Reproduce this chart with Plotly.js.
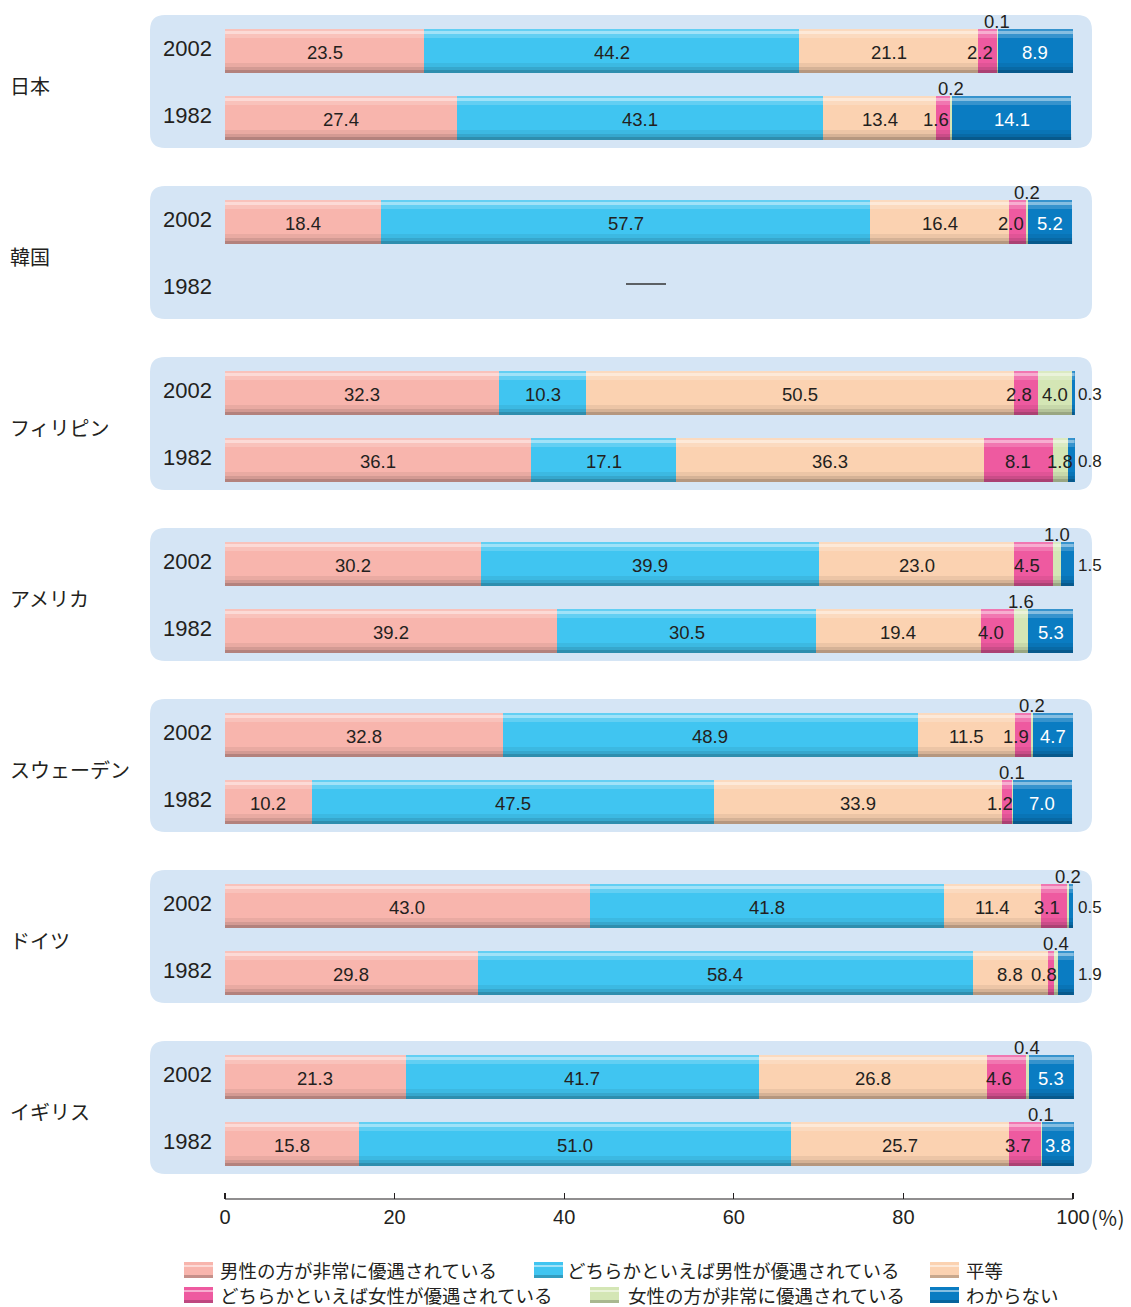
<!DOCTYPE html>
<html><head><meta charset="utf-8">
<script src="https://cdn.plot.ly/plotly-3.0.1.min.js"></script>
<style>html,body{margin:0;padding:0;background:#fff}</style>
</head><body><div id="chart" style="width:1131px;height:1307px"></div>
<script>
// ---------------- DATA ----------------
const countries = ['日本','韓国','フィリピン','アメリカ','スウェーデン','ドイツ','イギリス'];
const years = ['2002','1982'];
const seriesNames = [
  '男性の方が非常に優遇されている',
  'どちらかといえば男性が優遇されている',
  '平等',
  'どちらかといえば女性が優遇されている',
  '女性の方が非常に優遇されている',
  'わからない'
];
// row order: 日本2002, 日本1982, 韓国2002, 韓国1982, フィリピン2002, ...
const strongMale   = [23.5, 27.4, 18.4, null, 32.3, 36.1, 30.2, 39.2, 32.8, 10.2, 43.0, 29.8, 21.3, 15.8];
const ratherMale   = [44.2, 43.1, 57.7, null, 10.3, 17.1, 39.9, 30.5, 48.9, 47.5, 41.8, 58.4, 41.7, 51.0];
const equalVals    = [21.1, 13.4, 16.4, null, 50.5, 36.3, 23.0, 19.4, 11.5, 33.9, 11.4,  8.8, 26.8, 25.7];
const ratherFemale = [ 2.2,  1.6,  2.0, null,  2.8,  8.1,  4.5,  4.0,  1.9,  1.2,  3.1,  0.8,  4.6,  3.7];
const strongFemale = [ 0.1,  0.2,  0.2, null,  4.0,  1.8,  1.0,  1.6,  0.2,  0.1,  0.2,  0.4,  0.4,  0.1];
const dontKnow     = [ 8.9, 14.1,  5.2, null,  0.3,  0.8,  1.5,  5.3,  4.7,  7.0,  0.5,  1.9,  5.3,  3.8];
const xTicks = [0, 20, 40, 60, 80, 100];

// ---------------- STYLE / LAYOUT ----------------
const series = [strongMale, ratherMale, equalVals, ratherFemale, strongFemale, dontKnow];
const colors = ['#f8b5ad', '#40c5f1', '#fbd2b1', '#ee5aa0', '#d4e6b5', '#0a7cc2'];
const TXT = '#231f20';
const NUM_FONT = 'Liberation Sans, Arial, sans-serif';
const JP_FONT = 'Noto Sans CJK JP, sans-serif';
const GROUP = 171, ROW = 67, BARW = 44;
const W = 1131, H = 1307;
const L = 140, R = 31, T = 10, B = 108;
const PX0 = 225, PXU = 8.48;           // pixel of x=0, pixels per unit
const xr = [(L - PX0) / PXU, (W - R - PX0) / PXU];
const yTopPx = 51;                       // pixel centre of first row
const yr = [(H - B) - yTopPx, T - yTopPx];
const plotW = W - L - R, plotH = H - T - B;
const pX = p => (p - L) / plotW;
const pY = p => (H - B - p) / plotH;
const toX = p => (p - PX0) / PXU;

const nRows = countries.length * years.length;
const rowY = [];
for (let i = 0; i < nRows; i++) rowY.push(Math.floor(i / 2) * GROUP + (i % 2) * ROW);

const traces = series.map((vals, s) => ({
  type: 'bar', orientation: 'h', name: seriesNames[s],
  y: rowY, x: vals, width: BARW,
  marker: {color: colors[s], line: {width: 0}},
  showlegend: false, hoverinfo: 'x+name'
}));

const shapes = [];
const annotations = [];

// panels
const panelL = toX(150), panelR = toX(1092), rxU = 15 / PXU, ryU = 15;
countries.forEach((c, g) => {
  const y0 = g * GROUP - 36, y1 = g * GROUP + ROW + 30;
  const x0 = panelL, x1 = panelR;
  const path = `M ${x0 + rxU},${y0} L ${x1 - rxU},${y0} Q ${x1},${y0} ${x1},${y0 + ryU} L ${x1},${y1 - ryU} Q ${x1},${y1} ${x1 - rxU},${y1} L ${x0 + rxU},${y1} Q ${x0},${y1} ${x0},${y1 - ryU} L ${x0},${y0 + ryU} Q ${x0},${y0} ${x0 + rxU},${y0} Z`;
  shapes.push({type: 'path', path, xref: 'x', yref: 'y', layer: 'below', fillcolor: '#d5e5f5', line: {width: 0}});
  annotations.push({xref: 'paper', yref: 'y', x: pX(8), y: g * GROUP + ROW / 2 + 1, xanchor: 'left', yanchor: 'middle',
    text: c, showarrow: false, font: {family: JP_FONT, size: 20, color: TXT}});
});

// bar shading bands (top highlight, bottom shadow)
const bands = [
  [0, 2, 'rgba(255,255,255,0.18)'], [2, 5, 'rgba(255,255,255,0.5)'], [5, 9, 'rgba(255,255,255,0.18)'],
  [BARW - 10, BARW - 6, 'rgba(0,0,0,0.06)'], [BARW - 6, BARW - 3, 'rgba(0,0,0,0.15)'], [BARW - 3, BARW, 'rgba(0,0,0,0.28)']
];

for (let i = 0; i < nRows; i++) {
  const y = rowY[i];
  annotations.push({xref: 'x', yref: 'y', x: toX(214), y: y - 3, xanchor: 'right', yanchor: 'middle',
    text: years[i % 2], showarrow: false, font: {family: NUM_FONT, size: 22, color: TXT}});
  if (series[0][i] == null) {
    shapes.push({type: 'line', xref: 'x', yref: 'y', x0: toX(626), x1: toX(666), y0: y - 5, y1: y - 5,
      line: {color: '#333', width: 1.5}});
    continue;
  }
  let cum = 0;
  series.forEach((vals, s) => {
    const v = vals[i];
    const start = cum, end = cum + v, mid = (start + end) / 2;
    cum = end;
    const lab = v.toFixed(1);
    const base = {xref: 'x', yref: 'y', text: lab, showarrow: false, yanchor: 'middle',
      font: {family: NUM_FONT, size: 18.5, color: TXT}};
    if (s <= 2) {
      annotations.push(Object.assign(base, {x: mid, y: y + 1, xanchor: 'center'}));
    } else if (s === 3) {
      if (v >= 6) annotations.push(Object.assign(base, {x: mid, y: y + 1, xanchor: 'center'}));
      else annotations.push(Object.assign(base, {x: mid, xshift: -7, y: y + 1, xanchor: 'center'}));
    } else if (s === 4) {
      if (v >= 1.7) annotations.push(Object.assign(base, {x: mid, y: y + 1, xanchor: 'center'}));
      else annotations.push(Object.assign(base, {x: mid, y: y - 30, xanchor: 'center'}));
    } else {
      if (v >= 2) annotations.push(Object.assign(base, {x: mid, y: y + 1, xanchor: 'center', font: {family: NUM_FONT, size: 18.5, color: '#ffffff'}}));
      else annotations.push(Object.assign(base, {x: 100, xshift: 3, y: y + 1, xanchor: 'left', font: {family: NUM_FONT, size: 17, color: TXT}}));
    }
  });
  bands.forEach(b => shapes.push({type: 'rect', xref: 'x', yref: 'y', layer: 'above',
    x0: 0, x1: cum, y0: y - BARW / 2 + b[0], y1: y - BARW / 2 + b[1], fillcolor: b[2], line: {width: 0}}));
}

// x axis baseline
shapes.push({type: 'line', xref: 'x', yref: 'paper', x0: 0, x1: 100, y0: 0, y1: 0, line: {color: TXT, width: 1.2}});
annotations.push({xref: 'x', yref: 'paper', x: 100, xshift: 16, y: pY(1217), xanchor: 'left', yanchor: 'middle',
  text: '(％)', showarrow: false, font: {family: JP_FONT, size: 20, color: TXT}});

// manual legend (two rows, three irregular columns)
const legendSwatchX = [184, 534, 930, 184, 590, 930];
const legendTextX   = [218, 565, 964, 218, 626, 964];
const legendRowY    = [1270, 1270, 1270, 1295, 1295, 1295];
seriesNames.forEach((n, s) => {
  const sx = legendSwatchX[s], cy = legendRowY[s];
  shapes.push({type: 'rect', xref: 'paper', yref: 'paper', x0: pX(sx), x1: pX(sx + 29), y0: pY(cy + 8), y1: pY(cy - 8),
    fillcolor: colors[s], line: {width: 0}});
  shapes.push({type: 'rect', xref: 'paper', yref: 'paper', x0: pX(sx), x1: pX(sx + 29), y0: pY(cy - 5), y1: pY(cy - 3),
    fillcolor: 'rgba(255,255,255,0.5)', line: {width: 0}});
  shapes.push({type: 'rect', xref: 'paper', yref: 'paper', x0: pX(sx), x1: pX(sx + 29), y0: pY(cy + 8), y1: pY(cy + 5),
    fillcolor: 'rgba(0,0,0,0.2)', line: {width: 0}});
  annotations.push({xref: 'paper', yref: 'paper', x: pX(legendTextX[s]), y: pY(cy), xanchor: 'left', yanchor: 'middle',
    text: n, showarrow: false, font: {family: JP_FONT, size: 18.5, color: TXT}});
});

const layout = {
  width: W, height: H,
  margin: {l: L, r: R, t: T, b: B},
  paper_bgcolor: '#ffffff', plot_bgcolor: 'rgba(0,0,0,0)',
  barmode: 'stack',
  showlegend: false,
  xaxis: {range: xr, tickvals: xTicks, ticktext: xTicks.map(String), ticks: 'inside', ticklen: 6, tickwidth: 1.2,
    tickcolor: TXT, showline: false, showgrid: false, zeroline: false, fixedrange: true,
    tickfont: {family: NUM_FONT, size: 20, color: TXT}, ticklabelstandoff: 4},
  yaxis: {range: yr, visible: false, showgrid: false, zeroline: false, fixedrange: true},
  shapes, annotations
};

Plotly.newPlot('chart', traces, layout, {displayModeBar: false, staticPlot: true});
</script>
</body></html>
